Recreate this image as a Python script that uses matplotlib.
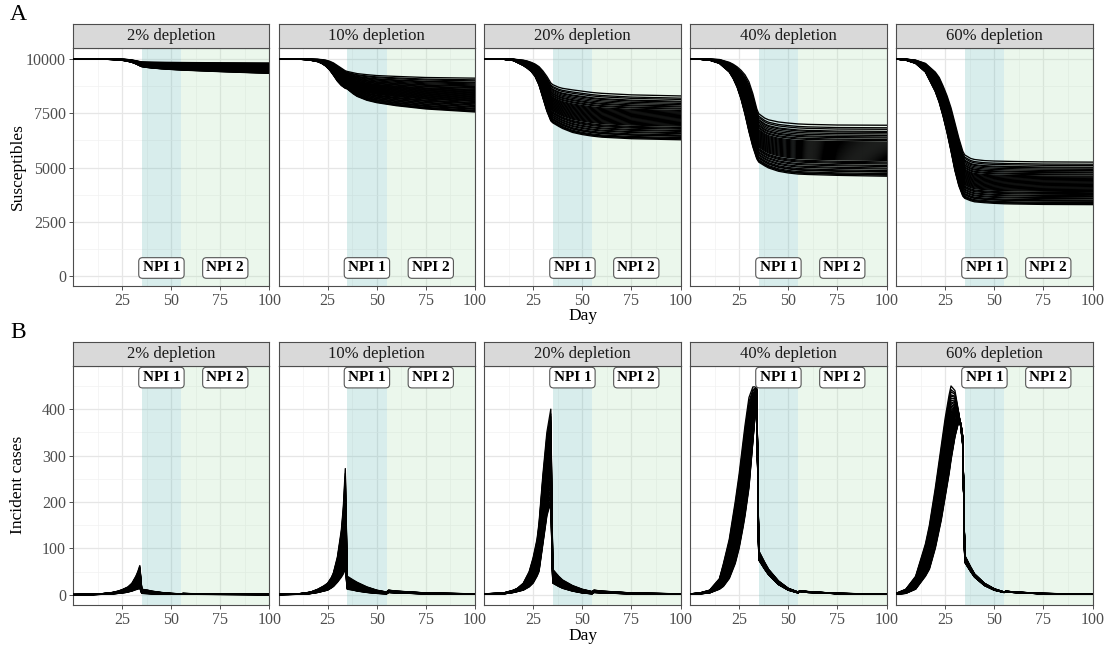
import numpy as np
import matplotlib.pyplot as plt
from matplotlib.ticker import MultipleLocator

plt.rcParams["font.family"] = ["Liberation Serif", "DejaVu Serif"]

# Facets
depletion = ["2% depletion", "10% depletion", "20% depletion",
             "40% depletion", "60% depletion"]

# NPI periods
npi_labels = ["NPI 1", "NPI 2"]
npi_start = [35, 55]
npi_end = [55, 100]
npi_label_day = [45, 77.5]

# Susceptibles: upper / lower edge of the simulation band
days_s = [0, 5, 10, 15, 20, 22, 24, 26, 28, 30, 32, 34, 35, 38, 40, 45, 50, 55, 60, 75, 100]
sus_upper = [
    [10000, 10000, 10000, 10000, 10000, 9998, 9995, 9990, 9978, 9955, 9925, 9885, 9870, 9862, 9858, 9852, 9847, 9842, 9838, 9830, 9820],
    [10000, 10000, 10000, 10000, 9990, 9975, 9950, 9900, 9820, 9700, 9580, 9460, 9430, 9370, 9330, 9280, 9240, 9220, 9200, 9150, 9120],
    [10000, 10000, 10000, 9995, 9950, 9910, 9850, 9770, 9650, 9450, 9200, 8900, 8820, 8700, 8650, 8580, 8520, 8460, 8420, 8350, 8300],
    [10000, 10000, 10000, 9980, 9850, 9760, 9640, 9480, 9270, 8950, 8400, 7700, 7480, 7280, 7200, 7100, 7050, 7010, 6990, 6960, 6950],
    [10000, 10000, 9950, 9800, 9400, 9150, 8750, 8300, 7750, 7050, 6350, 5750, 5580, 5420, 5370, 5320, 5300, 5290, 5280, 5260, 5250],
]
sus_lower = [
    [10000, 10000, 9999, 9995, 9980, 9970, 9955, 9930, 9895, 9850, 9780, 9690, 9650, 9610, 9590, 9550, 9520, 9495, 9475, 9420, 9340],
    [10000, 10000, 9995, 9970, 9880, 9800, 9680, 9500, 9250, 8980, 8780, 8650, 8620, 8400, 8280, 8100, 7990, 7920, 7850, 7700, 7560],
    [10000, 10000, 9990, 9930, 9700, 9580, 9430, 9200, 8800, 8200, 7600, 7150, 7060, 6900, 6800, 6620, 6520, 6450, 6400, 6330, 6280],
    [10000, 9990, 9950, 9800, 9400, 9100, 8700, 8150, 7450, 6650, 5950, 5400, 5250, 5080, 4980, 4830, 4750, 4700, 4680, 4640, 4600],
    [10000, 9950, 9800, 9400, 8500, 8000, 7350, 6600, 5750, 4850, 4150, 3680, 3580, 3470, 3420, 3380, 3350, 3330, 3320, 3300, 3290],
]

# Incident cases: upper / lower edge of the simulation band
days_i = [0, 5, 10, 15, 17, 20, 23, 25, 27, 28, 30, 32, 33, 34, 35, 38, 40, 45, 50, 55, 56, 60, 75, 100]
inc_upper = [
    [0.5, 0.8, 1.2, 2.5, 3.5, 5, 8, 11, 15, 17, 25, 40, 50, 63, 12, 10, 8, 5, 3, 2, 3, 2.5, 1.8, 1],
    [1, 1.5, 2, 5, 7, 12, 19, 25, 38, 48, 82, 140, 190, 272, 40, 32, 27, 17, 10, 6, 10, 8, 4, 2],
    [2, 3, 4, 10, 14, 25, 50, 80, 120, 155, 260, 350, 375, 400, 55, 40, 32, 20, 12, 7, 10, 8, 4, 2],
    [2, 4, 10, 35, 67, 120, 200, 260, 330, 365, 425, 448, 448, 445, 95, 70, 55, 30, 14, 6, 9, 7, 3, 1.5],
    [3, 12, 40, 110, 150, 230, 320, 380, 430, 450, 440, 390, 360, 320, 85, 60, 45, 25, 13, 6, 8, 6, 3, 1],
]
inc_lower = [
    [0.2, 0.3, 0.5, 1, 1.3, 2, 3, 4, 5, 6, 8, 11, 12, 14, 3, 2.5, 2, 1.5, 1.2, 1, 1.2, 1, 0.8, 0.5],
    [0.5, 0.7, 1, 2, 3, 5, 8, 10, 15, 18, 27, 38, 45, 55, 12, 10, 8, 5, 3, 2, 5, 4, 2, 1],
    [1, 1.5, 2, 5, 7, 10, 17, 25, 40, 50, 110, 170, 185, 195, 25, 18, 14, 8, 4, 2, 5, 4, 2, 1],
    [1, 2, 4, 12, 18, 35, 67, 100, 145, 170, 230, 330, 380, 420, 75, 55, 43, 22, 10, 4, 7, 5, 2.5, 1],
    [1, 3, 12, 40, 55, 100, 160, 210, 260, 290, 340, 375, 370, 340, 70, 50, 38, 20, 10, 5, 6, 5, 2, 1],
]

# position of each simulation run inside the band (0 = lower edge, 1 = upper edge)
run_weights = [0.00, 0.02, 0.03, 0.05, 0.08, 0.09, 0.11, 0.14, 0.16, 0.19,
               0.21, 0.24, 0.26, 0.28, 0.31, 0.33, 0.35, 0.37, 0.39, 0.41,
               0.43, 0.45, 0.47, 0.49, 0.51, 0.53, 0.55, 0.57, 0.59, 0.61,
               0.63, 0.65, 0.67, 0.70, 0.72, 0.75, 0.77, 0.80, 0.83, 0.86,
               0.88, 0.92, 0.95, 1.00]

W, H = 1107, 645
fig = plt.figure(figsize=(W / 100, H / 100), dpi=100)


def px_axes(x0, y0, w, h):
    return fig.add_axes([x0 / W, 1 - (y0 + h) / H, w / W, h / H])


panel_left = [73, 278.5, 484, 690, 896]
panel_w = 196.5
edge = "#4d4d4d"

rows = [
    dict(strip_top=24, top=48, bottom=286, days=days_s, hi=sus_upper, lo=sus_lower,
         ylim=(-460, 10510), yticks=[0, 2500, 5000, 7500, 10000], yminor=1250,
         label_y=370),
    dict(strip_top=342, top=366, bottom=605, days=days_i, hi=inc_upper, lo=inc_lower,
         ylim=(-22, 493), yticks=[0, 100, 200, 300, 400], yminor=50,
         label_y=468),
]

for row in rows:
    for i, name in enumerate(depletion):
        ax = px_axes(panel_left[i], row["top"], panel_w, row["bottom"] - row["top"])
        ax.set_xlim(0, 100)
        ax.set_ylim(*row["ylim"])
        ax.set_axisbelow(True)
        ax.set_xticks([25, 50, 75, 100])
        ax.xaxis.set_minor_locator(MultipleLocator(12.5))
        ax.set_yticks(row["yticks"])
        ax.yaxis.set_minor_locator(MultipleLocator(row["yminor"]))
        ax.grid(which="major", color="#e6e6e6", lw=0.9)
        ax.grid(which="minor", color="#f1f1f1", lw=0.5)
        ax.tick_params(which="minor", length=0)
        ax.tick_params(which="major", length=3, width=0.6, color="#333333",
                       labelcolor="#4d4d4d", labelsize=11.5, pad=2)
        if i > 0:
            ax.tick_params(axis="y", which="both", left=False, labelleft=False)
        for sp in ax.spines.values():
            sp.set_color(edge)
            sp.set_linewidth(0.8)

        # NPI shading
        ax.axvspan(npi_start[0], npi_end[0], color="#66b8b4", alpha=0.25, lw=0, zorder=1)
        ax.axvspan(npi_start[1], npi_end[1], color="#b0e0b4", alpha=0.25, lw=0, zorder=1)

        hi = np.array(row["hi"][i], dtype=float)
        lo = np.array(row["lo"][i], dtype=float)
        for w in run_weights:
            ax.plot(row["days"], lo + w * (hi - lo), color="black", lw=0.95, zorder=3)

        for lab, xd in zip(npi_labels, npi_label_day):
            ax.text(xd, row["label_y"], lab, ha="center", va="center", fontsize=11,
                    fontweight="bold", zorder=5,
                    bbox=dict(boxstyle="round,pad=0.25", fc="white", ec="#555555", lw=0.8))

        strip = px_axes(panel_left[i], row["strip_top"], panel_w, row["top"] - row["strip_top"])
        strip.set_facecolor("#d9d9d9")
        strip.set_xticks([])
        strip.set_yticks([])
        for sp in strip.spines.values():
            sp.set_color(edge)
            sp.set_linewidth(0.8)
        strip.text(0.5, 0.5, name, ha="center", va="center", fontsize=12,
                   color="#1a1a1a", transform=strip.transAxes)

fig.text(10 / W, 1 - 14 / H, "A", fontsize=17, va="center", ha="left")
fig.text(10 / W, 1 - 332 / H, "B", fontsize=17, va="center", ha="left")
fig.text(18 / W, 1 - 167 / H, "Susceptibles", rotation=90, va="center", ha="center", fontsize=12.5)
fig.text(18 / W, 1 - 485 / H, "Incident cases", rotation=90, va="center", ha="center", fontsize=12.5)
fig.text(583 / W, 1 - 316 / H, "Day", va="center", ha="center", fontsize=12.5)
fig.text(583 / W, 1 - 636 / H, "Day", va="center", ha="center", fontsize=12.5)

fig.savefig("out.png", dpi=100)
